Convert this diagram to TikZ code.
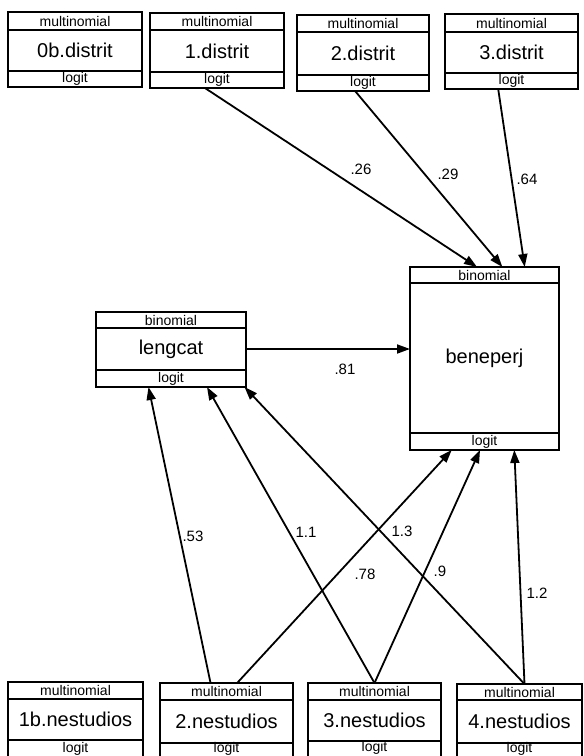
\documentclass[tikz,border=0pt]{standalone}
\usepackage{fontspec}
\setmainfont{Liberation Sans}
\usetikzlibrary{arrows.meta,calc}

\tikzset{
  band/.style={draw, line width=2pt, inner sep=0pt, outer sep=0pt,
               font=\fontsize{14}{14}\selectfont},
  core/.style={band, font=\fontsize{20}{20}\selectfont},
  foot/.style={},
  link/.style={line width=1.8pt, -{Triangle[length=13pt,width=9pt]}},
  coef/.style={font=\fontsize{15}{15}\selectfont, inner sep=0pt},
}

% #1 name, #2 left x, #3 top y, #4 width, #5/#6/#7 band heights,
% #8 family label, #9 variable name
\newcommand\varbox[9]{%
  \node[band, anchor=north west, minimum width=#4pt, minimum height=#5pt]
    (#1-t) at (#2,#3) {#8};
  \node[core, anchor=north, minimum width=#4pt, minimum height=#6pt]
    (#1) at (#1-t.south) {#9};
  \node[band, foot, anchor=north, minimum width=#4pt, minimum height=#7pt]
    (#1-b) at (#1.south) {logit};
}

\begin{document}
\begin{tikzpicture}[x=1pt, y=-1pt]
  \useasboundingbox (0,0) rectangle (584,756);
  \clip (0,0) rectangle (584,756);

  % district indicators
  \varbox{d0}{8}{12}{134}{18}{41}{16}{multinomial}{0b.distrit}
  \varbox{d1}{150}{13}{134}{17}{42}{16}{multinomial}{1.distrit}
  \varbox{d2}{297}{15}{132}{17}{43}{16}{multinomial}{2.distrit}
  \varbox{d3}{445}{14}{133}{18}{41}{16}{multinomial}{3.distrit}

  % outcomes
  \varbox{len}{96}{312}{150}{16}{42}{17}{binomial}{lengcat}
  \varbox{bene}{410}{267}{149}{16}{150}{17}{binomial}{beneperj}

  % education indicators (their lower bands run past the bottom edge)
  \begin{scope}[foot/.style={text height=8pt, text depth=4pt}]
    \varbox{e1}{8}{682}{135}{17}{41}{20}{multinomial}{1b.nestudios}
    \varbox{e2}{160}{683}{133}{17}{43}{14}{multinomial}{2.nestudios}
    \varbox{e3}{308}{683}{133}{17}{41}{17}{multinomial}{3.nestudios}
    \varbox{e4}{457}{684}{125}{16}{43}{14}{multinomial}{4.nestudios}
  \end{scope}

  % district -> beneperj
  \draw[link] ($(d1-b.south west)!0.41!(d1-b.south east)$)
           -- ($(bene-t.north west)!0.45!(bene-t.north east)$);
  \draw[link] ($(d2-b.south west)!0.44!(d2-b.south east)$)
           -- ($(bene-t.north west)!0.62!(bene-t.north east)$);
  \draw[link] ($(d3-b.south west)!0.40!(d3-b.south east)$)
           -- ($(bene-t.north west)!0.77!(bene-t.north east)$);

  % lengcat -> beneperj
  \draw[link] (len.east) -- (len.east -| bene.west);

  % education -> lengcat
  \draw[link] ($(e2-t.north west)!0.38!(e2-t.north east)$)
           -- ($(len-b.south west)!0.35!(len-b.south east)$);
  \draw[link] ($(e3-t.north west)!0.50!(e3-t.north east)$)
           -- ($(len-b.south west)!0.74!(len-b.south east)$);
  \draw[link] ($(e4-t.north west)!0.54!(e4-t.north east)$)
           -- ($(len-b.south west)!0.99!(len-b.south east)$);

  % education -> beneperj
  \draw[link] ($(e2-t.north west)!0.58!(e2-t.north east)$)
           -- ($(bene-b.south west)!0.28!(bene-b.south east)$);
  \draw[link] ($(e3-t.north west)!0.50!(e3-t.north east)$)
           -- ($(bene-b.south west)!0.47!(bene-b.south east)$);
  \draw[link] ($(e4-t.north west)!0.54!(e4-t.north east)$)
           -- ($(bene-b.south west)!0.70!(bene-b.south east)$);

  % coefficients
  \node[coef] (c1) at (361,169) {.26};
  \node[coef] (c2) at (448,174) {.29};
  \node[coef] (c3) at (527,179) {.64};
  \node[coef] (c4) at (345,369) {.81};
  \node[coef] (c5) at (193,536) {.53};
  \node[coef] (c6) at (306,532) {1.1};
  \node[coef] (c7) at (402,531) {1.3};
  \node[coef] (c8) at (365,574) {.78};
  \node[coef] (c9) at (440,571) {.9};
  \node[coef] (c10) at (537,593) {1.2};
\end{tikzpicture}
\end{document}
